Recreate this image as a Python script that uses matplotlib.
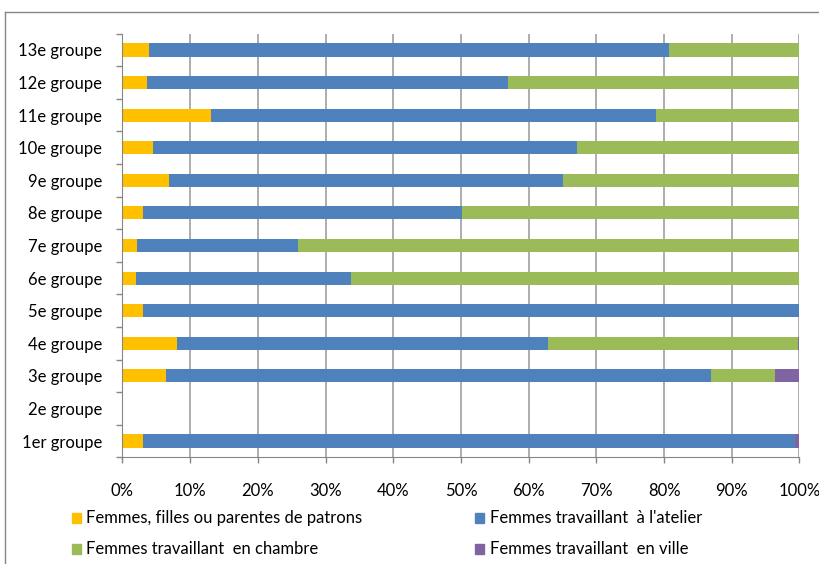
import matplotlib
matplotlib.use("Agg")
import matplotlib.pyplot as plt
from matplotlib.lines import Line2D
from matplotlib.patches import Rectangle
import numpy as np

categories = ["1er groupe", "2e groupe", "3e groupe", "4e groupe", "5e groupe", "6e groupe",
              "7e groupe", "8e groupe", "9e groupe", "10e groupe", "11e groupe", "12e groupe", "13e groupe"]
patrons = [3.0, 0, 6.4, 8.0, 3.0, 2.0, 2.2, 3.0, 6.9, 4.5, 13.1, 3.6, 3.9]
atelier = [96.3, 0, 80.5, 54.8, 97.0, 31.7, 23.7, 47.1, 58.1, 62.6, 65.7, 53.4, 76.8]
chambre = [0.0, 0, 9.5, 37.0, 0.0, 66.3, 74.1, 49.9, 35.0, 32.9, 21.2, 43.0, 19.3]
ville = [0.7, 0, 3.6, 0.2, 0.0, 0.0, 0.0, 0.0, 0.0, 0.0, 0.0, 0.0, 0.0]
series_names = ["Femmes, filles ou parentes de patrons", "Femmes travaillant  à l'atelier",
                "Femmes travaillant  en chambre", "Femmes travaillant  en ville"]
colors = ["#FFC000", "#4F81BD", "#9BBB59", "#8064A2"]
xticks = [0, 10, 20, 30, 40, 50, 60, 70, 80, 90, 100]

plt.rcParams['font.family'] = ['Lato', 'DejaVu Sans']

W, H = 820, 564
fig = plt.figure(figsize=(W / 100, H / 100), dpi=100)
ax = fig.add_axes([122.5 / W, 1 - 457.3 / H, (799.5 - 122.5) / W, (457.3 - 33.7) / H])

data = [patrons, atelier, chambre, ville]
y = np.arange(len(categories))
left = np.zeros(len(categories))
for vals, c, name in zip(data, colors, series_names):
    vals = np.array(vals, dtype=float)
    ax.barh(y, vals, left=left, height=0.4, color=c, label=name, zorder=3)
    left = left + vals

ax.set_xlim(0, 100)
ax.set_ylim(-0.5, len(categories) - 0.5)
ax.set_xticks(xticks)
ax.set_xticklabels([f"{v}%" for v in xticks], fontsize=12)
ax.set_yticks(y)
ax.set_yticklabels(categories, fontsize=12)
ax.set_yticks(np.arange(-0.5, len(categories)), minor=True)
ax.tick_params(axis='y', which='major', length=0, pad=14.4)
ax.tick_params(axis='y', which='minor', length=4.3, width=1, color='#868686', direction='out')
ax.tick_params(axis='x', which='major', length=4.3, width=1, color='#868686', pad=14)
ax.xaxis.grid(True, color='#A0A0A0', linewidth=1.2, zorder=0)
ax.set_axisbelow(True)
for s in ['top', 'right']:
    ax.spines[s].set_visible(False)
ax.spines['left'].set_color('#868686')
ax.spines['bottom'].set_color('#868686')
ax.spines['left'].set_zorder(4)

# legend (row-major, two columns)
marker_x = [71.7, 475.0]
text_x = [86.0, 490.0]
row_y = [518.0, 549.0]
for i, (name, c) in enumerate(zip(series_names, colors)):
    col, row = i % 2, i // 2
    fig.add_artist(Rectangle((marker_x[col] / W, 1 - (row_y[row] + 5) / H), 9 / W, 10 / H,
                             transform=fig.transFigure, color=c))
    fig.text(text_x[col] / W, 1 - row_y[row] / H, name, fontsize=12, va='center', ha='left')

fig.add_artist(Line2D([5 / W, 5 / W], [0, 1 - 12 / H], color='#868686', linewidth=1))
fig.add_artist(Line2D([5 / W, 1], [1 - 12 / H, 1 - 12 / H], color='#868686', linewidth=1))

fig.savefig("out.png", dpi=100)
